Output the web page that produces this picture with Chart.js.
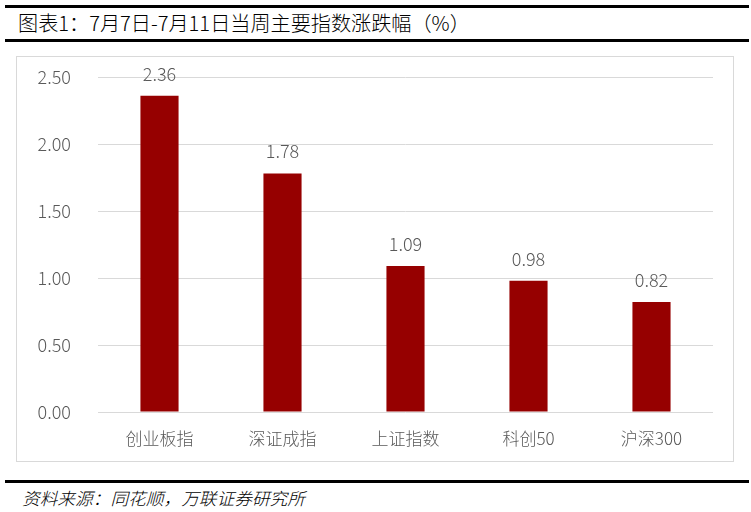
<!DOCTYPE html>
<html>
<head>
<meta charset="utf-8">
<script src="https://cdn.jsdelivr.net/npm/chart.js@4/dist/chart.umd.min.js"></script>
<style>
  html, body { margin: 0; padding: 0; background: #fff; }
  body { width: 751px; height: 512px; position: relative; overflow: hidden; font-family: "Noto Sans CJK SC", sans-serif; }
  .rule { position: absolute; left: 5px; width: 744px; height: 3px; background: #000; }
  #title { position: absolute; left: 18px; top: 9px; font-size: 20px; line-height: 28px; color: #000; white-space: nowrap; transform-origin: 0 50%; font-weight: 300; }
  #box { position: absolute; left: 16px; top: 56px; width: 718px; height: 406px; border: 1px solid #d9d9d9; box-sizing: border-box; }
  #source { position: absolute; left: 22px; top: 486px; font-size: 17px; line-height: 24px; font-style: italic; color: #000; white-space: nowrap; transform-origin: 0 50%; font-weight: 300; }
  #wrap { position: absolute; left: 0; top: 0; width: 751px; height: 512px; }
</style>
</head>
<body>
<div class="rule" style="top:5px"></div>
<div id="title">图表1：7月7日-7月11日当周主要指数涨跌幅（%）</div>
<div class="rule" style="top:39px"></div>
<div id="box"></div>
<div class="rule" style="top:480px"></div>
<div id="source">资料来源：同花顺，万联证券研究所</div>
<div id="wrap"><canvas id="c" width="751" height="512"></canvas></div>
<script>
const categories = ["创业板指", "深证成指", "上证指数", "科创50", "沪深300"];
const changes = [2.36, 1.78, 1.09, 0.98, 0.82];
const yTicks = [0, 0.5, 1.0, 1.5, 2.0, 2.5];

function fitWidth(id, w) {
  const el = document.getElementById(id);
  const s = w / el.scrollWidth;
  el.style.transform = 'scaleX(' + s + ')';
}
fitWidth('title', 452);
fitWidth('source', 283);

const FONT = '"Noto Sans CJK SC", sans-serif';

const labelPlugin = {
  id: 'barLabels',
  afterDatasetsDraw(chart) {
    const ctx = chart.ctx;
    const meta = chart.getDatasetMeta(0);
    ctx.save();
    ctx.fillStyle = '#595959';
    ctx.font = '300 18px ' + FONT;
    ctx.textAlign = 'center';
    ctx.textBaseline = 'middle';
    meta.data.forEach((bar, i) => {
      ctx.fillText(changes[i].toFixed(2), bar.x, bar.y - 22);
    });
    ctx.restore();
  }
};

new Chart(document.getElementById('c'), {
  type: 'bar',
  data: {
    labels: categories,
    datasets: [{
      data: changes,
      backgroundColor: '#960000',
      borderWidth: 0,
      categoryPercentage: 1.0,
      barPercentage: 0.31
    }]
  },
  options: {
    responsive: false,
    animation: false,
    layout: { padding: { left: 0, right: 38, top: 77, bottom: 0 } },
    plugins: { legend: { display: false }, tooltip: { enabled: false } },
    scales: {
      x: {
        grid: { display: false, drawTicks: false },
        border: { display: false },
        ticks: { color: '#595959', font: { family: FONT, size: 17, weight: 300 }, padding: 16, maxRotation: 0 },
        afterFit(scale) { scale.height = 100; }
      },
      y: {
        min: 0, max: 2.5,
        afterBuildTicks(scale) { scale.ticks = yTicks.map(v => ({ value: v })); },
        grid: { color: '#d9d9d9', lineWidth: 1, drawTicks: false },
        border: { display: false },
        ticks: { color: '#595959', font: { family: FONT, size: 18, weight: 300 }, padding: 27,
          callback: v => Number(v).toFixed(2) },
        afterFit(scale) { scale.width = 98; }
      }
    }
  },
  plugins: [labelPlugin]
});
</script>
</body>
</html>
